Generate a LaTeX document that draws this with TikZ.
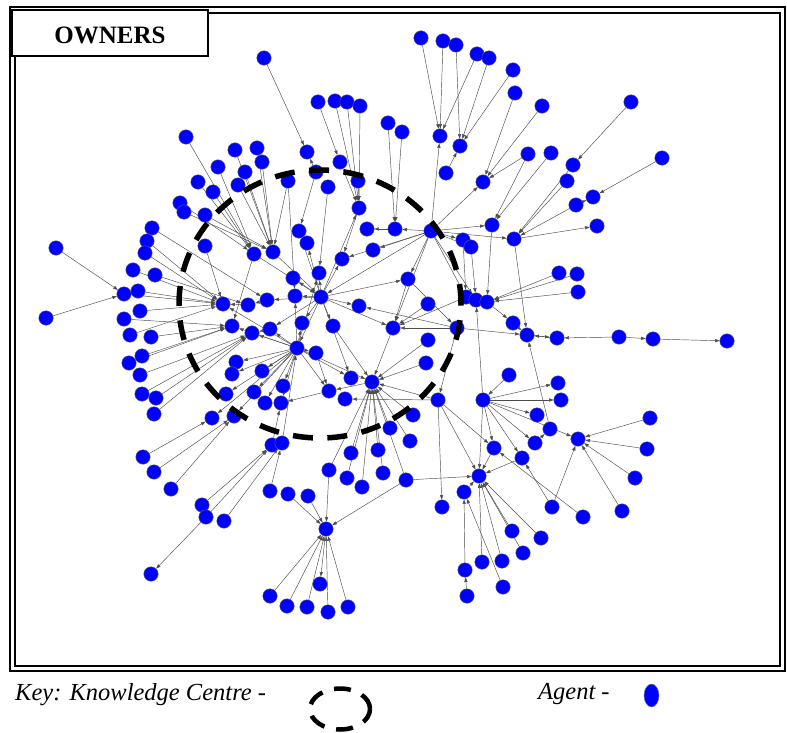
\documentclass[tikz,border=0pt]{standalone}
\usepackage{fontspec}
\setmainfont{Liberation Serif}
\usetikzlibrary{arrows.meta}
\pgfdeclarelayer{paper}
\pgfdeclarelayer{edges}
\pgfsetlayers{paper,edges,main}
\definecolor{agentblue}{RGB}{0,0,255}
\begin{document}
\begin{tikzpicture}[x=1pt,y=-1pt,
  agent/.style={circle,fill=agentblue,draw=black!60,line width=0.4pt,minimum size=14.5pt,inner sep=0pt},
  link/.style={draw=black!70,line width=0.45pt,-{Triangle[length=4.5pt,width=3.2pt]}},
  centre/.style={line width=5.5pt,dash pattern=on 20pt off 14.5pt},
  frameline/.style={line width=2pt},
  keyfont/.style={font=\itshape\fontsize{24.5}{26}\selectfont}]
\useasboundingbox (0,0) rectangle (787,733);
\begin{pgfonlayer}{paper}
\fill[white] (0,0) rectangle (787,733);
\end{pgfonlayer}

% double frame
\draw[frameline] (10,7.5) rectangle (784.5,671);
\draw[frameline] (14.5,13) rectangle (779.5,666);

% agents
\foreach \n/\x/\y in {
 a1/264/58, a2/421/38, a3/443/41, a4/456/45, a5/477/54, a6/489/58, a7/513/70, a8/515/93,
 a9/542/106, a10/631/102, a11/318/102, a12/335/101, a13/347/102, a14/360/106, a15/388/123,
 a16/402/132, a17/440/136, a18/460/146, a19/307/152, a20/186/137, a21/235/150, a22/257/148,
 a23/262/162, a24/218/167, a25/245/172, a26/198/182, a27/213/192, a28/238/185, a29/528/154,
 a30/551/153, a31/573/165, a32/567/181, a33/662/158, a34/446/173, a35/483/182, a36/340/162,
 a37/316/172, a38/288/181, a39/328/187, a40/358/181, a41/359/208, a42/367/229, a43/395/229,
 h1/431/231, a45/492/225, a46/514/239, a47/463/240, a48/471/247, a49/593/197, a50/576/205,
 a51/597/226,
 b1/180/203, b2/184/212, b3/205/215, b4/205/246, b5/152/228, b6/147/241, b7/145/253, b8/56/248,
 b9/133/270, b10/155/275, b11/124/294, b12/138/291, b13/140/311, b14/124/319, b15/46/318,
 b16/130/335, b17/151/337, b18/142/356, b19/129/363, b20/140/375, b21/142/394, b22/156/398,
 b23/154/414, b24/143/457, b25/154/472, b26/171/489, b27/202/505, b28/206/517, b29/224/521,
 b30/151/574,
 hA/223/304, c1/248/305, c2/267/300, c3/232/326, c4/252/333, c5/270/329, c6/254/254, c7/273/252,
 c8/299/231, c9/307/243, c10/342/259, c11/373/250, c12/319/273, c13/293/278, c14/408/279,
 c15/295/296, hC/321/297, c17/359/306, c18/428/304, c19/466/297, c20/476/300, c21/487/302,
 c22/513/323, c23/457/328, c24/393/328, c25/333/326, c26/302/323,
 hR/527/335, d1/557/338, d2/619/337, d3/653/339, d4/727/341, d5/559/273, d6/577/274, d7/578/292,
 hB/297/348, e1/316/353, e2/428/340, e3/426/363, e4/509/375, hD/372/382, e6/351/378, e7/329/391,
 e8/345/399, e9/283/386, e10/281/403, e11/265/403, e12/262/371, e13/438/400, hE/483/400,
 e15/413/415, e16/390/428, e17/410/441, e18/272/445, e19/282/443, e20/351/453, e21/378/450,
 e22/329/470, e23/347/478, e24/362/487, e25/383/473, e26/406/480, e27/270/491, e28/288/494,
 e29/308/496, e30/236/362, e31/232/374, e32/226/394, e33/254/392, e34/212/418, e35/234/416,
 f1/494/448, f2/522/458, hF/479/476, f4/464/492, f5/558/383, f6/561/400, f7/537/415, f8/550/429,
 f9/535/443, hG/578/439, f11/650/418, f12/647/449, f13/635/478, f14/442/507, f15/552/507,
 f16/583/517, f17/622/511, f18/512/531, f19/541/538, f20/523/553, f21/482/562, f22/502/561,
 f23/465/570, f24/467/596, f25/503/587,
 hH/326/529, g1/320/584, g2/270/596, g3/287/606, g4/307/607, g5/328/612, g6/348/607}
  \node[agent] (\n) at (\x,\y) {};

% links between agents
\begin{pgfonlayer}{edges}
\foreach \s/\t in {
 a1/a19, a2/a17, a3/a17, a5/a17, a4/a18, a6/a18, a7/a18, a8/a35, a9/a35, a29/a35, a10/a31,
 a30/a45, a29/a45, a33/a49, a34/a18, h1/a17, a11/a36, a36/a41, a12/a41, a13/a41, a14/a41,
 a15/a43, a16/a43, a37/a19, a20/c6, a24/c6, a26/c6, a27/c6, b1/c6, b2/c7, b3/c7, a21/c7,
 a22/c7, a23/c7, a25/c7, a28/c7, a38/c7, a37/c8, a39/c12, a40/a41, a41/c10, a43/a42, h1/a43,
 h1/c11, h1/a47, h1/a48, h1/a45, h1/a46, h1/c19, h1/c20, h1/c14, h1/a35, h1/hC, h1/c24,
 h1/c10, a45/c21, a46/hR, a46/a51, a31/a46, a32/a46, a50/a46, a50/a49, a47/c19, a48/c20,
 d5/c21, d6/c21, d7/c21,
 b4/hA, b5/c2, b6/hA, b7/hA, b9/hA, b10/c1, b12/hA, b13/hA, b11/hA, b14/c3, b16/hA, b17/c3,
 b8/b11, b15/b11, b18/c3, b19/c3, b20/c4, b21/c4, b22/c4, b23/c4, b24/e34, b25/e35, b26/e35,
 b27/e18, b28/e18, b29/e19, b28/b30, c1/hA, c2/c1, c6/c3, c5/c4, hB/c4, hB/c5, hB/c3,
 hB/e30, hB/e31, hB/e32, hB/e12, hB/e33, hB/e11, hB/e10, hB/e9, hB/e34, hB/e35, hB/c26,
 hB/c15, hB/c12, a38/c15, hB/e1, hB/e7, hB/e6, hB/hA, e28/hH, e29/hH, e27/e19, e18/e10,
 e19/hB, hC/c12, hC/c13, hC/c15, hC/c26, hC/c25, hC/c10, hC/c9, hC/c8, hC/c17, hC/c2, hC/c5,
 hC/e6, hC/a41, hC/c14, hC/c24, c6/hC, c7/hC, hC/hB, hB/hD,
 e20/hD, e21/hD, e22/hD, e23/hD, e24/hD, e25/hD, e26/hD, e16/hD, e17/hD, e15/hD, e13/hD,
 e2/hD, e3/hD, c25/hD, c24/hD, hD/e7, e13/e8, e22/hH, e26/hH, e7/e10, e1/e7, g2/hH, g3/hH,
 g4/hH, g5/hH, g6/hH, hH/g1,
 hE/f5, hE/f6, hE/f7, hE/f9, hE/f1, hE/f2, e4/hE, hE/c20, hE/hG, hE/hF, e13/f14, e13/f1,
 e13/hF, c23/e13, f8/hR, hR/d1, d1/hR, d2/d1, d3/d4, d2/d3, c22/hR, c23/hR, c21/c22, f9/f8,
 f11/hG, f12/hG, f13/hG, f15/hG, f17/hG, f15/f2, f16/f1, f18/hF, f19/hF, f20/hF, f21/hF,
 f22/hF, f25/f4, f23/f4, f24/f23, f4/hF, f1/hF, f2/hF, e26/hF, c14/c24, c14/c23, c18/c24,
 c19/c24, c23/c24, c23/c17}
  \draw[link] (\s) -- (\t);
\end{pgfonlayer}

% knowledge centre
\draw[centre] (320,304) ellipse [x radius=141pt, y radius=134pt];

% title box
\draw[line width=1.8pt,fill=white] (12,10) rectangle (208,56);
\node[anchor=base,inner sep=0pt,font=\bfseries\fontsize{25}{26}\selectfont] (title) at (110,44) {OWNERS};

% key
\node[anchor=base west,inner sep=0pt,keyfont] (keytext) at (15,700) {Key: Knowledge Centre -};
\draw[line width=4.5pt,dash pattern=on 17pt off 12pt] (340,709) ellipse [x radius=30pt, y radius=20.5pt];
\node[anchor=base west,inner sep=0pt,keyfont] (agenttext) at (538,699) {Agent -};
\draw[fill=agentblue,draw=black!50,line width=0.4pt] (651.5,695.5) ellipse [x radius=7.5pt, y radius=11.5pt];
\end{tikzpicture}
\end{document}
